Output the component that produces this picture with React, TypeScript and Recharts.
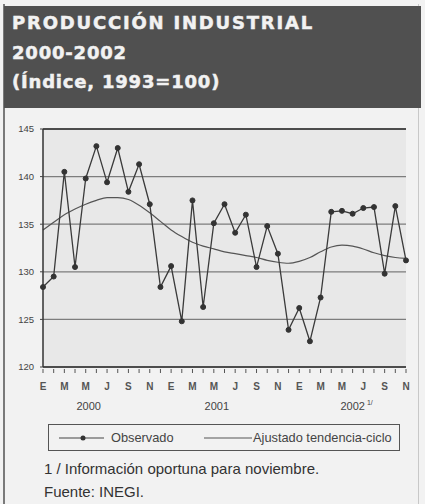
import {
  LineChart,
  Line,
  XAxis,
  YAxis,
  CartesianGrid,
  ReferenceLine,
} from "recharts";

const MONTHS = ["E", "F", "M", "A", "M", "J", "J", "A", "S", "O", "N", "D"];
const YEARS = ["2000", "2001", "2002"];
const Y_TICKS = [120, 125, 130, 135, 140, 145];

// Jan 2000 .. Nov 2002
const observado = [
  128.4, 129.5, 140.5, 130.5, 139.8, 143.2, 139.4, 143.0, 138.4, 141.3, 137.1, 128.4,
  130.6, 124.8, 137.5, 126.3, 135.1, 137.1, 134.1, 136.0, 130.5, 134.8, 131.9, 123.9,
  126.2, 122.7, 127.3, 136.3, 136.4, 136.1, 136.7, 136.8, 129.8, 136.9, 131.2,
];

const tendencia = [
  134.4, 135.2, 136.0, 136.6, 137.1, 137.5, 137.8, 137.8, 137.6, 137.0, 136.2, 135.3,
  134.4, 133.7, 133.1, 132.7, 132.4, 132.1, 131.9, 131.7, 131.5, 131.2, 131.0, 130.9,
  131.1, 131.5, 132.1, 132.6, 132.8, 132.7, 132.4, 132.0, 131.7, 131.5, 131.4,
];

const periods = observado.map(
  (_, i) => `${MONTHS[i % 12]} ${YEARS[Math.floor(i / 12)]}`
);

const data = periods.map((p, i) => ({
  periodo: p,
  observado: observado[i],
  tendencia: tendencia[i],
}));

const YEAR_AT = [4, 16, 29];

const MonthTick = (props: any) => {
  const { x, y, payload, index } = props;
  const month = String(payload.value).split(" ")[0];
  const yearIdx = YEAR_AT.indexOf(index);
  return (
    <g>
      <line x1={x} x2={x} y1={y - 8} y2={y - 4} stroke="#555" strokeWidth={1} />
      {index % 2 === 0 && (
        <text
          x={x}
          y={y + 13}
          textAnchor="middle"
          fontSize={10}
          fontWeight="bold"
          fill="#555"
          fontFamily="Liberation Sans, Arial, sans-serif"
        >
          {month}
        </text>
      )}
      {yearIdx >= 0 && (
        <text
          x={x + (yearIdx === 2 ? 4 : 3)}
          y={y + 33}
          textAnchor="middle"
          fontSize={11}
          fill="#444"
          fontFamily="Liberation Sans, Arial, sans-serif"
        >
          {YEARS[yearIdx]}
          {yearIdx === 2 && (
            <tspan fontSize={7} dy={-5}>
              {" 1/"}
            </tspan>
          )}
        </text>
      )}
    </g>
  );
};

export default function App() {
  return (
    <div
      style={{
        position: "fixed",
        left: 0,
        top: 0,
        width: 425,
        height: 504,
        background: "#f2f2f2",
        fontFamily: "Liberation Sans, Arial, sans-serif",
        overflow: "hidden",
      }}
    >
      <div
        style={{
          position: "absolute",
          left: 3,
          top: 4,
          bottom: 0,
          width: 2,
          background: "#7a7a7a",
        }}
      />
      <div
        style={{
          position: "absolute",
          left: 418,
          top: 4,
          bottom: 0,
          width: 1,
          background: "#c8c8c8",
        }}
      />
      <div
        style={{
          position: "absolute",
          left: 4,
          top: 6,
          width: 417,
          height: 102,
          background: "#505050",
          color: "#f2f2f2",
          fontFamily: "DejaVu Sans, sans-serif",
          fontWeight: "bold",
          fontSize: 18,
          letterSpacing: 0.8,
          WebkitTextStroke: "0.5px #f2f2f2",
        }}
      >
        <div style={{ position: "absolute", left: 8, top: 2, lineHeight: "29.5px" }}>
          <span style={{ letterSpacing: 1.8 }}>PRODUCCIÓN INDUSTRIAL</span>
          <br />
          2000-2002
          <br />
          (Índice, 1993=100)
        </div>
      </div>

      <div style={{ position: "absolute", left: 0, top: 0 }}>
        <LineChart
          width={425}
          height={420}
          data={data}
          margin={{ top: 129, right: 19, bottom: 0, left: 0 }}
        >
          <CartesianGrid
            vertical={false}
            stroke="#7d7d7d"
            strokeWidth={1.3}
            fill="#e8e8e8"
          />
          <XAxis
            dataKey="periodo"
            interval={0}
            height={53}
            tickLine={false}
            tick={<MonthTick />}
            axisLine={{ stroke: "#333", strokeWidth: 1.5 }}
            tickSize={8}
          />
          <YAxis
            domain={[120, 145]}
            ticks={Y_TICKS}
            width={43}
            tickSize={3}
            tickMargin={6}
            tickLine={{ stroke: "#444" }}
            axisLine={{ stroke: "#333", strokeWidth: 1.5 }}
            tick={{ fontSize: 9.5, fill: "#444" }}
          />
          <ReferenceLine y={145} stroke="#333" strokeWidth={1.5} />
          <ReferenceLine x={periods[periods.length - 1]} stroke="#333" strokeWidth={1.5} />
          <Line
            type="monotone"
            dataKey="tendencia"
            stroke="#555"
            strokeWidth={1.2}
            dot={false}
            isAnimationActive={false}
          />
          <Line
            type="linear"
            dataKey="observado"
            stroke="#3a3a3a"
            strokeWidth={1.3}
            dot={{ r: 2.5, fill: "#333", stroke: "#333", strokeWidth: 1 }}
            isAnimationActive={false}
          />
        </LineChart>
      </div>

      <div
        style={{
          position: "absolute",
          left: 48,
          top: 424,
          width: 350,
          height: 25,
          border: "1px solid #555",
          color: "#444",
        }}
      >
        <svg width={350} height={25} style={{ position: "absolute", left: 0, top: 0 }}>
          <line x1={10} x2={55} y1={13} y2={13} stroke="#444" strokeWidth={1.2} />
          <circle cx={34} cy={13} r={2.5} fill="#333" />
          <text x={62} y={17} fontSize={12.8} fill="#444">
            Observado
          </text>
          <line x1={155} x2={203} y1={13} y2={13} stroke="#555" strokeWidth={1.2} />
          <text x={204} y={17} fontSize={12.8} fill="#444">
            Ajustado tendencia-ciclo
          </text>
        </svg>
      </div>

      <div
        style={{
          position: "absolute",
          left: 44,
          top: 457,
          fontSize: 15,
          color: "#333",
          lineHeight: "23px",
        }}
      >
        1 / Información oportuna para noviembre.
        <br />
        Fuente: INEGI.
      </div>
    </div>
  );
}
